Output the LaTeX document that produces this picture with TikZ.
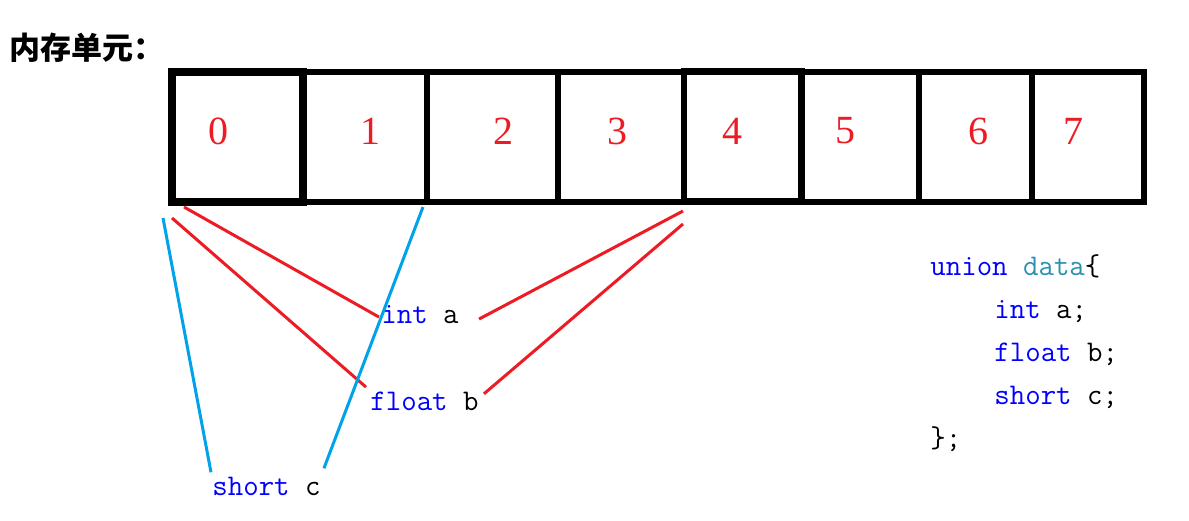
\documentclass[tikz,border=0pt]{standalone}
\usepackage{fontspec}
\setmainfont{Liberation Serif}
\newfontfamily\cjk{Noto Sans CJK SC}
\usetikzlibrary{positioning}
\definecolor{cellred}{HTML}{ED1C24}
\definecolor{linkblue}{HTML}{00A2E8}
\definecolor{kwblue}{HTML}{0000FF}
\definecolor{typeteal}{HTML}{2B91AF}
\newcommand\kw[1]{\textcolor{kwblue}{#1}}
\tikzset{
  cell/.style={
    draw,
    inner sep=0pt,
    outer sep=0pt,
    minimum height=65pt,
    anchor=north west
  },
  digit/.style={text=cellred, inner sep=0pt, font=\fontsize{20}{24}\selectfont},
  code/.style={inner sep=0pt, font=\ttfamily\fontsize{15}{21.5}\selectfont},
  redlink/.style={draw=cellred, line width=1.5pt},
  bluelink/.style={draw=linkblue, line width=1.5pt}
}
\begin{document}
\begin{tikzpicture}[x=0.5pt, y=-0.5pt]
  \useasboundingbox (0,0) rectangle (1189,520);

  \node[anchor=base west, inner sep=0pt, font=\cjk\bfseries\fontsize{15.5}{18}\selectfont]
    (title) at (9,59) {内存单元：};

  % memory cells 0..7
  \foreach \i/\xl/\xr/\xd/\lw in {0/172/302.5/218/4, 1/302.5/427/370/3,
      2/427/557.5/503/3, 3/557.5/684/617/3, 4/684/801.5/732/3.2,
      5/801.5/918.5/845/3, 6/918.5/1031.5/978/3, 7/1031.5/1143.5/1073/3}{
    \pgfmathsetmacro\w{(\xr-\xl)/2}
    \node[cell, line width=\lw pt, minimum width=\w pt] (c\i) at (\xl,71.5) {};
    \node[digit] (d\i) at (\xd,131) {\i};
  }

  \node[code, anchor=base west] (inta) at (381,323) {\kw{int} a};
  \node[code, anchor=base west] (floatb) at (370,410) {\kw{float} b};
  \node[code, anchor=base west] (shortc) at (212,495) {\kw{short} c};

  % base of a multi-line node is its last line
  \node[code, anchor=base west, align=left] (decl) at (930,447) {%
    \kw{union} \textcolor{typeteal}{data}\{\\
    \hspace*{32pt}\kw{int} a;\\
    \hspace*{32pt}\kw{float} b;\\
    \hspace*{32pt}\kw{short} c;\\
    \};};

  % int a and float b span bytes 0-3
  \draw[redlink] ([shift={(12,5.5)}]c0.south west) -- ([shift={(-2,3)}]inta.west);
  \draw[redlink] ([shift={(-1,9.5)}]c4.south west) -- ([shift={(20,5)}]inta.east);
  \draw[redlink] ([shift={(0,16.5)}]c0.south west) -- ([shift={(-4,-4)}]floatb.north west);
  \draw[redlink] ([shift={(-1,22.5)}]c4.south west) -- ([shift={(5,-7)}]floatb.east);
  % short c spans bytes 0-1
  \draw[bluelink] ([shift={(-9,16.5)}]c0.south west) -- ([shift={(-1,-4)}]shortc.north west);
  \draw[bluelink] ([shift={(-4,5.5)}]c2.south west) -- ([shift={(3,-8)}]shortc.north east);
\end{tikzpicture}
\end{document}
